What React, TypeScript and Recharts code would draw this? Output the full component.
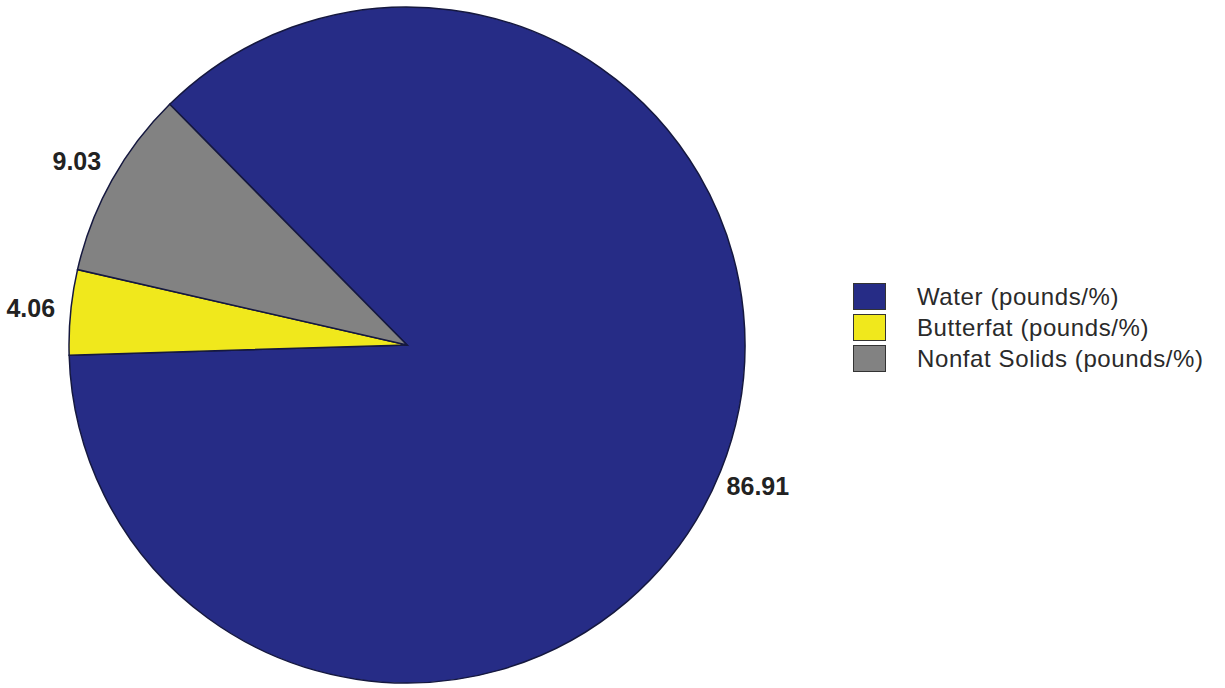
import React from 'react';
import { PieChart, Pie, Cell, Legend } from 'recharts';

const categories = ['Water (pounds/%)', 'Butterfat (pounds/%)', 'Nonfat Solids (pounds/%)'];
const values = [86.91, 4.06, 9.03];
const colors = ['#262C86', '#F0E81C', '#828282'];

const data = categories.map((name, i) => ({ name, value: values[i] }));

const RADIAN = Math.PI / 180;

const renderLabel = (props: any) => {
  const { cx, cy, midAngle, outerRadius, value } = props;
  const r = outerRadius + 40;
  const x = cx + r * Math.cos(-midAngle * RADIAN);
  const y = cy + r * Math.sin(-midAngle * RADIAN);
  return (
    <text
      x={x}
      y={y}
      textAnchor="middle"
      dominantBaseline="central"
      fill="#222"
      fontFamily="'Liberation Sans Narrow', 'Arial Narrow', 'Liberation Sans', sans-serif"
      fontWeight="bold"
      fontSize={25}
    >
      {value.toFixed(2)}
    </text>
  );
};

const renderLegend = () => (
  <div
    style={{
      fontFamily: "'Liberation Sans', Arial, sans-serif",
      fontSize: 24,
      letterSpacing: 0.6,
      color: '#2a2a2a',
    }}
  >
    {categories.map((name, i) => (
      <div key={name} style={{ display: 'flex', alignItems: 'center', height: 31 }}>
        <span
          style={{
            display: 'inline-block',
            width: 31,
            height: 25,
            background: colors[i],
            border: '1.5px solid #333',
            marginRight: 31,
          }}
        />
        <span>{name}</span>
      </div>
    ))}
  </div>
);

export default function App() {
  return (
    <div style={{ position: 'absolute', left: 0, top: 0, background: '#fff' }}>
      <PieChart width={1225} height={688}>
        <Pie
          data={data}
          dataKey="value"
          nameKey="name"
          cx={402}
          cy={340}
          outerRadius={338}
          startAngle={134.6}
          endAngle={-225.4}
          stroke="#15183f"
          strokeWidth={1.5}
          label={renderLabel}
          labelLine={false}
          isAnimationActive={false}
        >
          {data.map((entry, i) => (
            <Cell key={`cell-${i}`} fill={colors[i]} />
          ))}
        </Pie>
        <Legend
          content={renderLegend}
          wrapperStyle={{ position: 'absolute', left: 853, top: 281, width: 370 }}
        />
      </PieChart>
    </div>
  );
}
